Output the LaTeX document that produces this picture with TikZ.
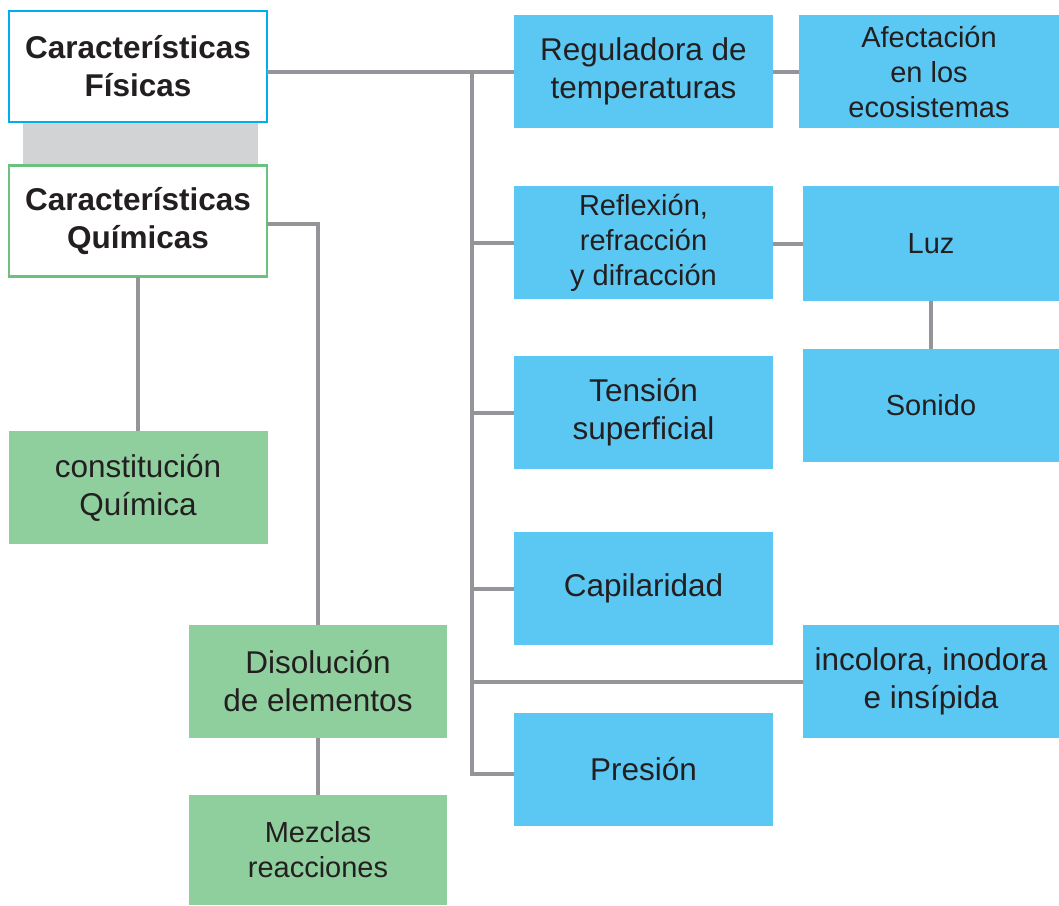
\documentclass[tikz,border=0pt]{standalone}
\usepackage{fontspec}
\setmainfont{Liberation Sans}
\definecolor{cblue}{HTML}{5BC8F4}
\definecolor{cgreen}{HTML}{8FCF9D}
\definecolor{cgray}{HTML}{939598}
\definecolor{cband}{HTML}{D1D3D4}
\definecolor{cfisb}{HTML}{00AEEF}
\definecolor{cquimb}{HTML}{6CC17F}
\definecolor{txt}{HTML}{231F20}
\tikzset{
 bx/.style={rectangle, inner sep=0pt, outer sep=0pt, align=center, text=txt,
   minimum width=259pt, minimum height=113pt, font=\fontsize{31.5}{38}\selectfont},
 bluebox/.style={bx, fill=cblue},
 greenbox/.style={bx, fill=cgreen},
 smalltxt/.style={font=\fontsize{29}{35}\selectfont},
 headbox/.style={bx, fill=white, line width=2.2pt, minimum width=258pt, minimum height=111pt,
   font=\fontsize{31.5}{38}\selectfont\bfseries},
 conn/.style={draw=cgray, line width=4pt},
}
\begin{document}
\begin{tikzpicture}[x=1pt,y=-1pt]
\useasboundingbox (0,0) rectangle (1059,905);
\fill[cband] (23,120) rectangle (258,166);
% left side
\node[headbox, draw=cfisb] (fis) at (138,66.5) {Características\\Físicas};
\node[headbox, draw=cquimb] (quim) at (138,221) {Características\\Químicas};
\node[greenbox] (cons) at (138,487.5) {constitución\\Química};
\node[greenbox, minimum width=258pt] (dis) at (318,681.5) {Disolución\\de elementos};
\node[greenbox, smalltxt, minimum width=258pt, minimum height=110pt] (mez) at (318,850) {Mezclas\\reacciones};
% right side
\node[bluebox] (reg) at (643.5,71.5) {Reguladora de\\temperaturas};
\node[bluebox, smalltxt, minimum width=260pt] (afe) at (929,71.5) {Afectación\\en los\\ecosistemas};
\node[bluebox, smalltxt] (refl) at (643.5,242.5) {Reflexión,\\refracción\\y difracción};
\node[bluebox, smalltxt, minimum width=256pt, minimum height=115pt] (luz) at (931,243.5) {Luz};
\node[bluebox, smalltxt, minimum width=256pt] (son) at (931,405.5) {Sonido};
\node[bluebox] (ten) at (643.5,412.5) {Tensión\\superficial};
\node[bluebox] (cap) at (643.5,588.5) {Capilaridad};
\node[bluebox, minimum width=256pt] (inc) at (931,681.5) {incolora, inodora\\e insípida};
\node[bluebox] (pres) at (643.5,769.5) {Presión};
% connectors
\coordinate (tr) at (472,71.5);
\draw[conn] (fis.east |- reg.west) -- (reg.west);
\draw[conn] (tr) |- ([yshift=-4pt]pres.west);
\draw[conn] (tr |- refl.west) -- (refl.west);
\draw[conn] (tr |- ten.west) -- (ten.west);
\draw[conn] (tr |- cap.west) -- (cap.west);
\draw[conn] (tr |- inc.west) -- (inc.west);
\draw[conn] (reg.east) -- (afe.west);
\draw[conn] (refl.east |- luz.west) -- (luz.west);
\draw[conn] (luz.south) -- (son.north);
\draw[conn] ([yshift=-3pt]quim.east) -| (dis.north);
\draw[conn] (quim.south) -- (cons.north);
\draw[conn] (dis.south) -- (mez.north);
\end{tikzpicture}
\end{document}
